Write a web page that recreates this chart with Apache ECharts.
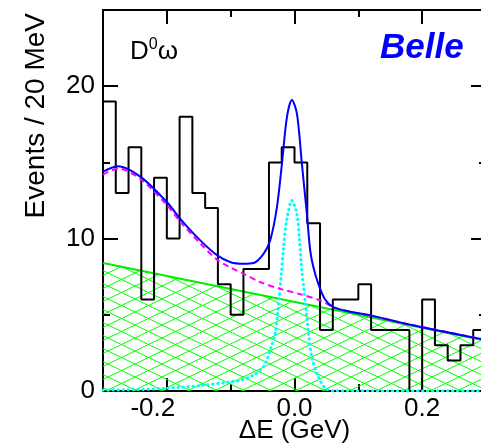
<!DOCTYPE html>
<html>
<head>
<meta charset="utf-8">
<title>D0 omega, Delta E</title>
<script src="https://cdn.jsdelivr.net/npm/echarts@6/dist/echarts.min.js"></script>
<style>
  html, body { margin: 0; padding: 0; background: #fff; }
  #main { width: 481px; height: 444px; }
</style>
</head>
<body>
<div id="main"></div>
<script>
    // histogram: 20 MeV bins from -0.3 GeV
    var binStart = -0.3;
    var binWidth = 0.02;
    var counts = [19, 13, 16, 6, 14, 10, 18, 13, 12, 7, 5, 8, 8, 15, 16,
                  15, 11, 4, 6, 6, 7, 4, 4, 4, 0, 6, 3, 2, 3, 4];

    // combinatorial background (green, hatched)
    var combX = [-0.3, 0.3];
    var combY = [8.4, 3.3];

    // total background (magenta dashed)
    var bkgX = [-0.3, -0.276, -0.241, -0.2, -0.179, -0.148, -0.121, -0.1, -0.08,
                -0.054, -0.022, 0.009, 0.04, 0.059, 0.0715, 0.118, 0.176, 0.3];
    var bkgY = [14.2, 14.6, 13.9, 12.2, 11.1, 9.7, 8.6, 8.1, 7.7,
                7.15, 6.7, 6.35, 5.95, 5.55, 5.35, 4.95, 4.4, 3.35];

    // signal (cyan dotted)
    var sigX = [-0.3, -0.2415, -0.2, -0.1476, -0.1006, -0.085, -0.0642, -0.0485, -0.038,
                -0.0302, -0.0255, -0.0208, -0.0172, -0.0119, -0.0041, 0.0038, 0.0078,
                0.0116, 0.0141, 0.0219, 0.0272, 0.0376, 0.048, 0.0606, 0.3];
    var sigY = [0.05, 0.1, 0.18, 0.35, 0.6, 0.7, 1.05, 1.6, 2.7,
                3.8, 5.5, 7.6, 9.4, 11.3, 12.5, 11.6, 9.9,
                7.8, 6.9, 3.8, 2.2, 0.9, 0.2, 0.02, 0];

    // total fit (blue)
    var fitX = [-0.3, -0.276, -0.241, -0.2, -0.179, -0.148, -0.121, -0.1, -0.08, -0.064,
                -0.0485, -0.038, -0.0275, -0.0197, -0.0119, -0.0041, 0.0038, 0.0116,
                0.0194, 0.0246, 0.0297, 0.0376, 0.048, 0.061, 0.087, 0.118, 0.176, 0.3];
    var fitY = [14.4, 14.75, 14.05, 12.4, 11.3, 9.9, 8.9, 8.45, 8.35, 8.4,
                9.0, 9.9, 12.07, 14.9, 17.96, 19.1, 18.2, 14.9,
                11.6, 9.23, 8.1, 7.0, 6.0, 5.5, 5.2, 4.98, 4.4, 3.35];

    var xMajor = [-0.2, 0, 0.2];
    var xMinor = [-0.1, 0.1];
    var yMajor = [0, 10, 20];
    var yMinor = [5, 15];

    var font = 'Liberation Sans, Arial, Helvetica, sans-serif';

    function pairs(xs, ys) {
        return xs.map(function (x, i) { return [x, ys[i]]; });
    }

    var histData = counts.map(function (c, i) { return [binStart + i * binWidth, c]; });
    histData.push([binStart + counts.length * binWidth, counts[counts.length - 1]]);

    function makeHatch() {
        var w = 27, h = 13;
        var c = document.createElement('canvas');
        c.width = w;
        c.height = h;
        var ctx = c.getContext('2d');
        ctx.strokeStyle = '#00ff00';
        ctx.lineWidth = 1;
        for (var k = -1; k <= 1; k++) {
            ctx.beginPath();
            ctx.moveTo(k * w - w, -h);
            ctx.lineTo(k * w + 2 * w, 2 * h);
            ctx.moveTo(k * w - w, 2 * h);
            ctx.lineTo(k * w + 2 * w, -h);
            ctx.stroke();
        }
        return c;
    }

    var black = { color: '#000', width: 2 };
    var rect = { left: 103, right: -5, top: 10, bottom: 53, outerBoundsMode: 'none', containLabel: false };

    function tickAxis(kind, grid, pos, ticks, len, labels, line) {
        var a = {
            type: 'value',
            gridIndex: grid,
            position: pos,
            min: kind === 'x' ? -0.3 : 0,
            max: kind === 'x' ? 0.3 : 25,
            axisLine: { show: line, onZero: false, lineStyle: black },
            axisTick: { show: true, inside: true, length: len, customValues: ticks, lineStyle: black },
            axisLabel: { show: false },
            splitLine: { show: false }
        };
        if (labels) {
            a.axisLabel = {
                show: true,
                customValues: ticks,
                color: '#000',
                fontSize: 26,
                fontFamily: font,
                margin: kind === 'x' ? 5 : 8,
                formatter: kind === 'x' ? function (v) {
                    // negative labels sit a little left of their tick, as in the original
                    return v < 0 ? '{neg|' + v.toFixed(1) + '}' : v.toFixed(1);
                } : '{value}',
                rich: { neg: { fontSize: 26, fontFamily: font, color: '#000', padding: [0, 28, 0, 0] } }
            };
        }
        return a;
    }

    var xBottom = tickAxis('x', 0, 'bottom', xMajor, 13, true, true);
    xBottom.name = '\u0394E (GeV)';
    xBottom.nameLocation = 'middle';
    xBottom.nameGap = 27;
    xBottom.nameMoveOverlap = false;
    xBottom.nameTextStyle = { color: '#000', fontSize: 26, fontFamily: font };

    var option = {
        animation: false,
        backgroundColor: '#fff',
        grid: [rect, rect],
        xAxis: [
            xBottom,
            tickAxis('x', 0, 'top', xMajor, 14, false, true),
            tickAxis('x', 1, 'bottom', xMinor, 7, false, false),
            tickAxis('x', 1, 'top', xMinor, 7, false, false)
        ],
        yAxis: [
            tickAxis('y', 0, 'left', yMajor, 15, true, true),
            tickAxis('y', 0, 'right', yMajor, 15, false, true),
            tickAxis('y', 1, 'left', yMinor, 7, false, false),
            tickAxis('y', 1, 'right', yMinor, 7, false, false)
        ],
        graphic: [
            {
                type: 'text', x: 36, y: 13, rotation: Math.PI / 2,
                style: { text: 'Events / 20 MeV', fill: '#000', font: '28px ' + font, align: 'right', verticalAlign: 'middle' }
            },
            {
                type: 'text', x: 130, y: 52,
                style: {
                    text: '{a|D}{b|0}{a|\u03c9}',
                    verticalAlign: 'middle',
                    rich: {
                        a: { fontSize: 26, fontFamily: font, fill: '#000', lineHeight: 30 },
                        b: { fontSize: 16, fontFamily: font, fill: '#000', verticalAlign: 'top', lineHeight: 16 }
                    }
                }
            },
            {
                type: 'text', x: 380, y: 48,
                style: { text: 'Belle', fill: '#0000ff', font: 'italic bold 35px ' + font, verticalAlign: 'middle' }
            }
        ],
        series: [
            {
                type: 'line',
                data: pairs(combX, combY),
                symbol: 'none',
                lineStyle: { color: '#00ee00', width: 2 },
                areaStyle: { color: { image: makeHatch(), repeat: 'repeat' }, opacity: 1 }
            },
            {
                type: 'line',
                step: 'end',
                data: histData,
                symbol: 'none',
                lineStyle: { color: '#000', width: 2 }
            },
            {
                type: 'line',
                data: pairs(sigX, sigY),
                symbol: 'none',
                smooth: 0.3,
                lineStyle: { color: '#00ffff', width: 3, type: [0.5, 4.5], cap: 'round' }
            },
            {
                type: 'line',
                data: pairs(bkgX, bkgY),
                symbol: 'none',
                smooth: 0.3,
                lineStyle: { color: '#ff00ff', width: 2, type: [6, 4] }
            },
            {
                type: 'line',
                data: pairs(fitX, fitY),
                symbol: 'none',
                smooth: 0.3,
                lineStyle: { color: '#0000ff', width: 2 }
            }
        ]
    };

    var chart = echarts.init(document.getElementById('main'), null, { renderer: 'canvas' });
    chart.setOption(option);
</script>
</body>
</html>
